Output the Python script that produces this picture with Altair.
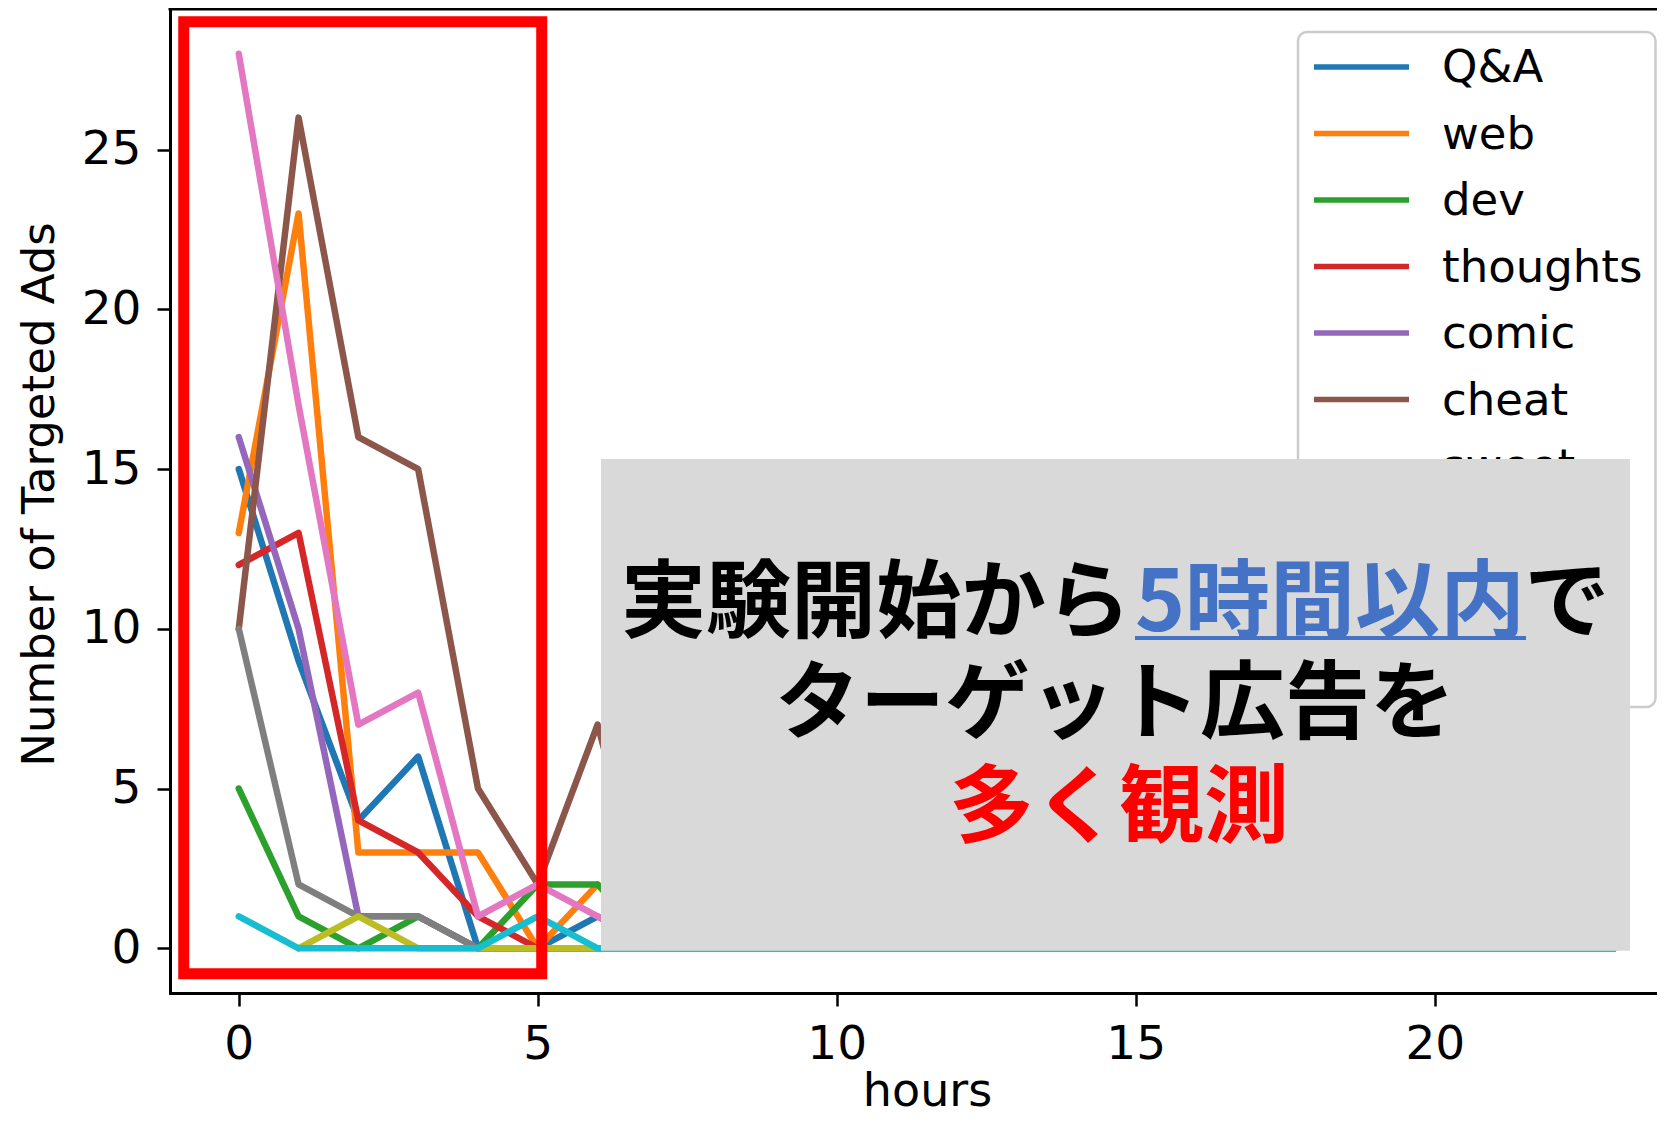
import altair as alt
import pandas as pd

# ---------------- data ----------------
hours = list(range(24))
series_names = ["Q&A", "web", "dev", "thoughts", "comic", "cheat", "sweet", "news", "game", "misc"]
series_colors = ["#1f77b4", "#ff7f0e", "#2ca02c", "#d62728", "#9467bd",
                 "#8c564b", "#e377c2", "#7f7f7f", "#bcbd22", "#17becf"]

qa       = [15, 9, 4, 6, 0, 0, 1, 0, 0, 0, 0, 0, 0, 0, 0, 0, 0, 0, 0, 0, 0, 0, 0, 0]
web      = [13, 23, 3, 3, 3, 0, 2, 0, 0, 0, 0, 0, 0, 0, 0, 0, 0, 0, 0, 0, 0, 0, 0, 0]
dev      = [5, 1, 0, 1, 0, 2, 2, 0, 0, 0, 0, 0, 0, 0, 0, 0, 0, 0, 0, 0, 0, 0, 0, 0]
thoughts = [12, 13, 4, 3, 1, 0, 0, 0, 0, 0, 0, 0, 0, 0, 0, 0, 0, 0, 0, 0, 0, 0, 0, 0]
comic    = [16, 10, 1, 1, 0, 0, 0, 0, 0, 0, 0, 0, 0, 0, 0, 0, 0, 0, 0, 0, 0, 0, 0, 0]
cheat    = [10, 26, 16, 15, 5, 2, 7, 0, 0, 0, 0, 0, 0, 0, 0, 0, 0, 0, 0, 0, 0, 0, 0, 0]
sweet    = [28, 17, 7, 8, 1, 2, 1, 0, 0, 0, 0, 0, 0, 0, 0, 0, 0, 0, 0, 0, 0, 0, 0, 0]
news     = [10, 2, 1, 1, 0, 0, 0, 0, 0, 0, 0, 0, 0, 0, 0, 0, 0, 0, 0, 0, 0, 0, 0, 0]
game     = [None, 0, 1, 0, 0, 0, 0, 0, 0, 0, 0, 0, 0, 0, 0, 0, 0, 0, 0, 0, 0, 0, 0, 0]
misc     = [1, 0, 0, 0, 0, 1, 0, 0, 0, 0, 0, 0, 0, 0, 0, 0, 0, 0, 0, 0, 0, 0, 0, 0]
series_values = [qa, web, dev, thoughts, comic, cheat, sweet, news, game, misc]

x_ticks = [0, 5, 10, 15, 20]
y_ticks = [0, 5, 10, 15, 20, 25]
x_title = "hours"
y_title = "Number of Targeted Ads"

# annotation boxes (data units)
red_box = {"x": [-0.92], "x2": [5.066], "y": [-0.794], "y2": [29.0]}
grey_box = {"x": [6.057], "x2": [23.264], "y": [-0.075], "y2": [15.316]}

line1_a = "実験開始から"
line1_b = "5時間以内"
line1_c = "で"
line2 = "ターゲット広告を"
line3 = "多く観測"

# ---------------- build ----------------
rows = []
for name, vals in zip(series_names, series_values):
    for h, v in zip(hours, vals):
        rows.append({"series": name, "hour": h, "count": v})
df = pd.DataFrame(rows)

W, H = 1487, 984
x_scale = alt.Scale(domain=[-1.15, 23.716], nice=False, zero=False)
y_scale = alt.Scale(domain=[-1.4, 29.4], nice=False, zero=False)

x_axis = alt.Axis(values=x_ticks, format="d", labelPadding=15, labelOverlap=False,
                  labelFlush=False, titleX=757, titleY=112, titleBaseline="alphabetic",
                  titleAlign="center", titleFontSize=46)
y_axis = alt.Axis(values=y_ticks, format="d", labelPadding=16, labelOverlap=False,
                  labelFlush=False, titleAngle=270, titleX=-117, titleY=485,
                  titleAlign="center", titleBaseline="alphabetic", titleFontSize=45)


def X(field):
    return alt.X(field, type="quantitative", scale=x_scale, axis=x_axis, title=x_title)


def Y(field):
    return alt.Y(field, type="quantitative", scale=y_scale, axis=y_axis, title=y_title)


base = alt.Chart(df).encode(x=X("hour"), y=Y("count"))
line_layers = [
    base.transform_filter(alt.datum.series == name).mark_line(
        color=col, strokeWidth=6.5, strokeJoin="round", strokeCap="round")
    for name, col in zip(series_names, series_colors)
]

red_layer = alt.Chart(pd.DataFrame(red_box)).mark_rect(
    fillOpacity=0, stroke="#ff0000", strokeWidth=11, strokeJoin="miter"
).encode(x=X("x"), x2="x2:Q", y=Y("y"), y2="y2:Q")

grey_layer = alt.Chart(pd.DataFrame(grey_box)).mark_rect(
    fill="#d9d9d9", stroke=None
).encode(x=X("x"), x2="x2:Q", y=Y("y"), y2="y2:Q")

one = pd.DataFrame({"k": [0]})
top_spine = alt.Chart(one).mark_rule(color="black", strokeWidth=3, strokeCap="square").encode(
    x=alt.value(0), x2=alt.value(W), y=alt.value(0))

# legend (drawn by hand, matplotlib style)
leg_df = pd.DataFrame({"series": series_names, "idx": list(range(len(series_names)))})
color_scale = alt.Scale(domain=series_names, range=series_colors)
leg_frame = alt.Chart(one).mark_rect(
    fill="white", fillOpacity=0.8, stroke="#cccccc", strokeWidth=2.5, cornerRadius=9
).encode(x=alt.value(1128), x2=alt.value(1485.5), y=alt.value(23), y2=alt.value(698))
leg_lines = alt.Chart(leg_df).transform_calculate(ly="58 + 66.5 * datum.idx").mark_rule(
    strokeWidth=5.5
).encode(x=alt.value(1144), x2=alt.value(1239), y=alt.Y("ly:Q", scale=None),
         color=alt.Color("series:N", scale=color_scale, legend=None))
leg_text = alt.Chart(leg_df).transform_calculate(ly="59 + 66.5 * datum.idx").mark_text(
    align="left", baseline="middle", font="DejaVu Sans", fontSize=45, color="black"
).encode(x=alt.value(1272), y=alt.Y("ly:Q", scale=None), text="series:N")

# overlay texts
jp_font = "Noto Sans CJK JP"


def jp_text(txt, cx, by, color):
    return alt.Chart(pd.DataFrame({"t": [txt]})).mark_text(
        align="center", baseline="alphabetic", font=jp_font, fontWeight="bold",
        fontSize=85, color=color
    ).encode(x=alt.value(cx), y=alt.value(by), text="t:N")


t1a = jp_text(line1_a, 706, 622, "black")
t1b = jp_text(line1_b, 1160, 622, "#4472c4")
t1c = jp_text(line1_c, 1397, 622, "black")
t2 = jp_text(line2, 945, 723, "black")
t3 = jp_text(line3, 949, 827, "#ff0000")
underline = alt.Chart(one).mark_rule(color="#4472c4", strokeWidth=4).encode(
    x=alt.value(965), x2=alt.value(1356), y=alt.value(629))

chart = alt.layer(
    *line_layers, red_layer, leg_frame, leg_lines, leg_text, top_spine,
    grey_layer, t1a, t1b, t1c, underline, t2, t3
).properties(
    width=W, height=H,
    autosize=alt.AutoSizeParams(type="none"),
    padding={"left": 162, "top": 1, "right": 0, "bottom": 123},
    background="white",
).configure_view(stroke=None).configure_axis(
    grid=False, domainColor="black", domainWidth=3, domainCap="square",
    tickColor="black", tickWidth=2.5, tickSize=13,
    labelFont="DejaVu Sans", labelFontSize=47, labelColor="black",
    titleFont="DejaVu Sans", titleFontSize=44, titleColor="black", titleFontWeight="normal",
)

chart.save("out.html", embed_options={"renderer": "svg", "actions": False})
